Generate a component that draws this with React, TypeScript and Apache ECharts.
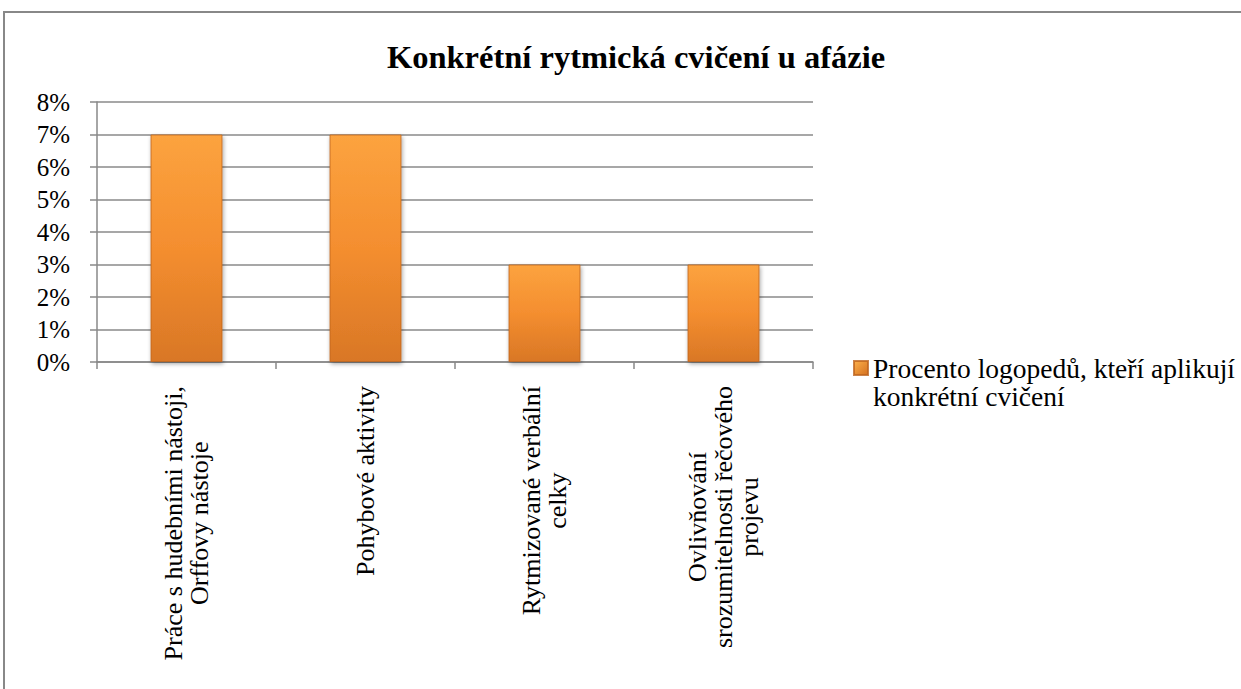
import React, { useEffect, useRef } from "react";
import * as echarts from "echarts";

const titleText = "Konkrétní rytmická cvičení u afázie";
const categories = [
  "Práce s hudebními nástoji,\nOrffovy nástoje",
  "Pohybové aktivity",
  "Rytmizované verbální\ncelky",
  "Ovlivňování\nsrozumitelnosti řečového\nprojevu",
];
const seriesName = "Procento logopedů, kteří aplikují konkrétní cvičení";
const legendLines = ["Procento logopedů, kteří aplikují", "konkrétní cvičení"];
const values = [0.07, 0.07, 0.03, 0.03];
const yMin = 0;
const yMax = 0.08;
const yStep = 0.01;

const FONT = "Liberation Serif, Times New Roman, serif";

export default function App() {
  const ref = useRef<HTMLDivElement>(null);
  useEffect(() => {
    document.body.style.margin = "0";
    const chart = echarts.init(ref.current!, null, { renderer: "svg" });
    const barGradient = new echarts.graphic.LinearGradient(0, 0, 0, 1, [
      { offset: 0, color: "#FCA33F" },
      { offset: 0.5, color: "#F48E2F" },
      { offset: 1, color: "#D97726" },
    ]);
    const legendIcon = new echarts.graphic.LinearGradient(0, 0, 1, 1, [
      { offset: 0, color: "#FDB04A" },
      { offset: 1, color: "#D4701F" },
    ]);
    chart.setOption({
      animation: false,
      backgroundColor: "#ffffff",
      textStyle: { fontFamily: FONT },
      title: {
        text: titleText,
        left: 631,
        textAlign: "center",
        top: 35,
        textStyle: {
          fontFamily: FONT,
          fontWeight: "bold",
          fontSize: 32.5,
          color: "#000",
        },
      },
      graphic: [
        {
          type: "rect",
          shape: { x: 4, y: 12, width: 1300, height: 800 },
          style: { fill: "none", stroke: "#888", lineWidth: 2 },
          silent: true,
        },
      ],
      legend: {
        left: 853,
        top: 326,
        padding: 0,
        itemWidth: 14,
        itemHeight: 14,
        icon: "rect",
        data: [{ name: seriesName, itemStyle: { color: legendIcon } }],
        formatter: () => "\n" + legendLines.join("\n"),
        textStyle: {
          fontFamily: FONT,
          fontSize: 27.5,
          color: "#000",
          lineHeight: 28,
        },
      },
      grid: { left: 97, right: 428, top: 102, bottom: 327, containLabel: false },
      xAxis: {
        type: "category",
        data: categories,
        axisLine: { show: true, lineStyle: { color: "#888", width: 1.5 } },
        axisTick: { show: true, length: 7, lineStyle: { color: "#888", width: 1.5 } },
        axisLabel: {
          rotate: 90,
          margin: 24,
          interval: 0,
          fontFamily: FONT,
          fontSize: 26,
          formatter: (v: string) =>
            v
              .split("\n")
              .map((l) => "{c|" + l + "}")
              .join("\n"),
          rich: {
            c: {
              fontFamily: FONT,
              fontSize: 26,
              color: "#000",
              lineHeight: 26,
              align: "center",
            },
          },
        },
      },
      yAxis: {
        type: "value",
        min: yMin,
        max: yMax,
        interval: yStep,
        axisLine: { show: true, lineStyle: { color: "#888", width: 1.5 } },
        axisTick: { show: true, length: 7, lineStyle: { color: "#888", width: 1.5 } },
        splitLine: { show: true, lineStyle: { color: "#8a8a8a", width: 1.5 } },
        axisLabel: {
          margin: 27,
          fontFamily: FONT,
          fontSize: 25,
          color: "#000",
          formatter: (v: number) => Math.round(v * 100) + "%",
        },
      },
      series: [
        {
          name: seriesName,
          type: "bar",
          data: values,
          barWidth: 72,
          itemStyle: {
            color: barGradient,
            borderColor: "rgba(190,100,30,0.8)",
            borderWidth: 1,
            shadowColor: "rgba(0,0,0,0.35)",
            shadowBlur: 4,
            shadowOffsetX: 1,
            shadowOffsetY: 2,
          },
        },
      ],
    });
    return () => chart.dispose();
  }, []);
  return <div ref={ref} style={{ width: 1241, height: 689 }} />;
}
